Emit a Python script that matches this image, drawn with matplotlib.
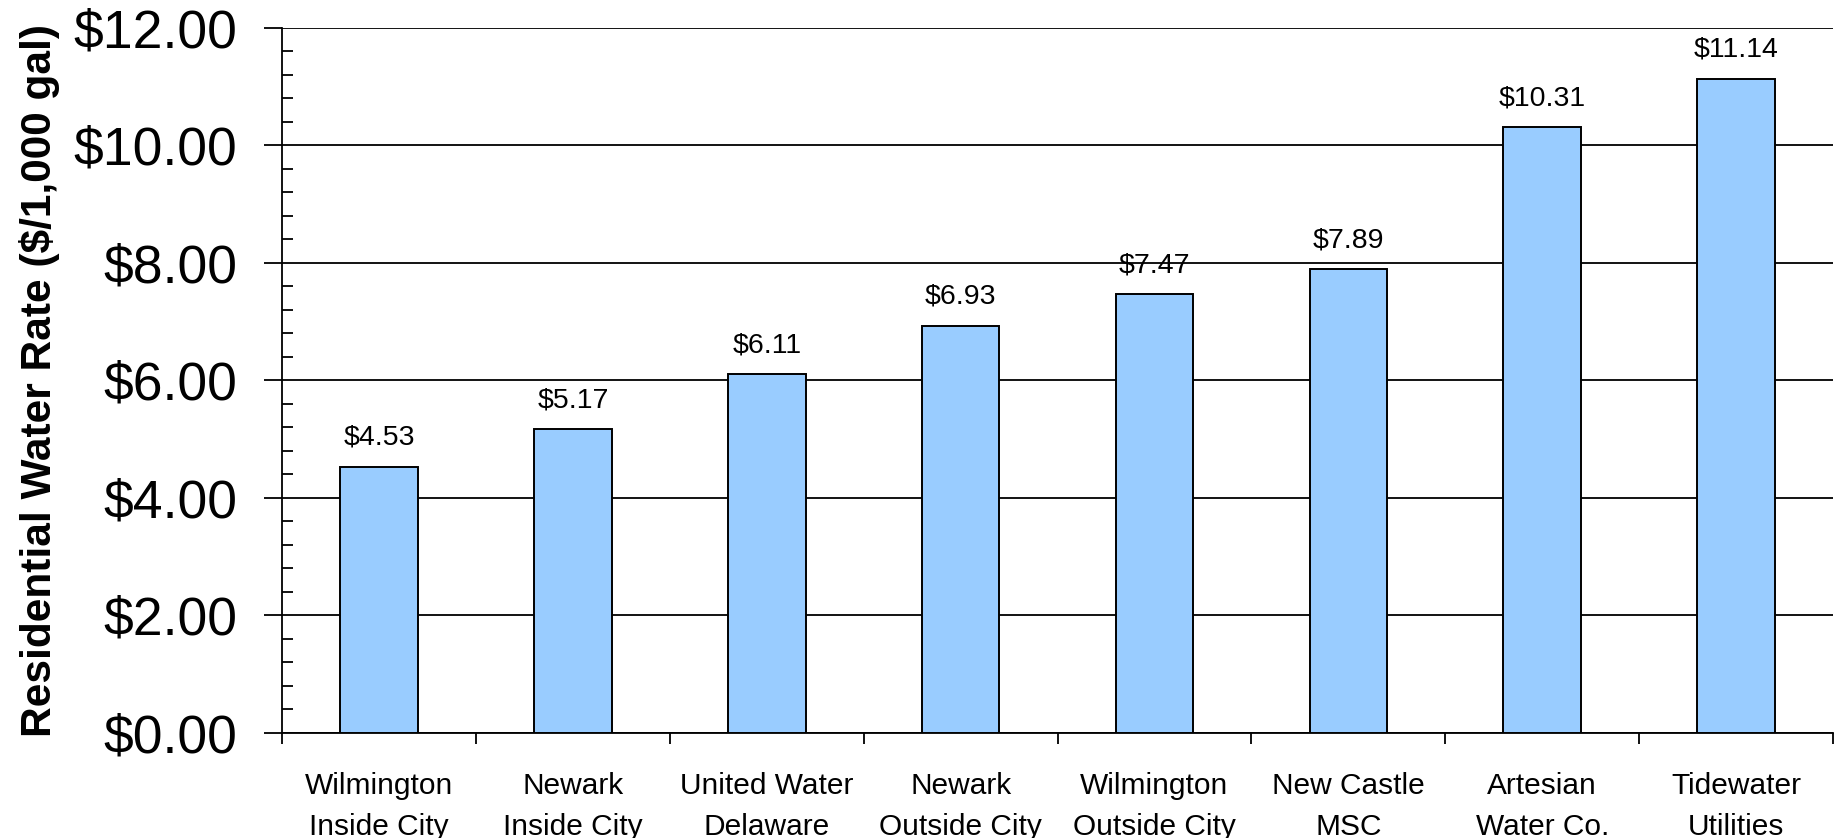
import matplotlib
matplotlib.use("Agg")
import matplotlib.pyplot as plt
from matplotlib.ticker import MultipleLocator, FixedLocator

plt.rcParams["font.family"] = ["Liberation Sans", "DejaVu Sans"]

# Residential water rates ($ per 1,000 gal)
UTILITIES = [
    "Wilmington\nInside City",
    "Newark\nInside City",
    "United Water\nDelaware",
    "Newark\nOutside City",
    "Wilmington\nOutside City",
    "New Castle\nMSC",
    "Artesian\nWater Co.",
    "Tidewater\nUtilities",
]
RATES = [4.53, 5.17, 6.11, 6.93, 7.47, 7.89, 10.31, 11.14]
Y_TICKS = [0, 2, 4, 6, 8, 10, 12]

fig = plt.figure(figsize=(18.4, 8.38), dpi=100)
ax = fig.add_axes([0.1533, 0.1253, 0.9962 - 0.1533, 0.9666 - 0.1253])

x = list(range(len(RATES)))
bars = ax.bar(x, RATES, width=0.4, color="#99CCFF", edgecolor="black",
              linewidth=1.4, zorder=3)

for bar, v in zip(bars, RATES):
    ax.text(bar.get_x() + bar.get_width() / 2, v + 0.27, f"${v:.2f}",
            ha="center", va="bottom", fontsize=20.5, zorder=4)

ax.set_xlim(-0.5, len(RATES) - 0.5)
ax.set_ylim(0, 12)

# y axis: major ticks outward with gridlines, minor ticks inward
ax.yaxis.set_major_locator(FixedLocator(Y_TICKS))
ax.set_yticklabels([f"${t:.2f}" for t in Y_TICKS], fontsize=38.5)
ax.yaxis.set_minor_locator(MultipleLocator(0.4))
ax.tick_params(axis="y", which="major", direction="out", length=13, width=1.3, pad=19)
ax.tick_params(axis="y", which="minor", direction="in", length=8, width=1.3)
ax.grid(axis="y", which="major", color="black", linewidth=1.3, zorder=0)

# x axis: labels at bar centres, tick marks between categories
ax.set_xticks(x)
ax.set_xticklabels(UTILITIES, fontsize=21.5, linespacing=1.6)
ax.tick_params(axis="x", which="major", length=0, pad=28)
ax.xaxis.set_minor_locator(FixedLocator([i - 0.5 for i in range(len(RATES) + 1)]))
ax.tick_params(axis="x", which="minor", direction="out", length=8, width=1.3)

ax.set_ylabel("Residential Water Rate ($/1,000 gal)", fontsize=30.5,
              fontweight="bold", labelpad=10)

for side in ("top", "right"):
    ax.spines[side].set_visible(False)
for side in ("left", "bottom"):
    ax.spines[side].set_linewidth(1.3)

fig.savefig("out.png", dpi=100)
